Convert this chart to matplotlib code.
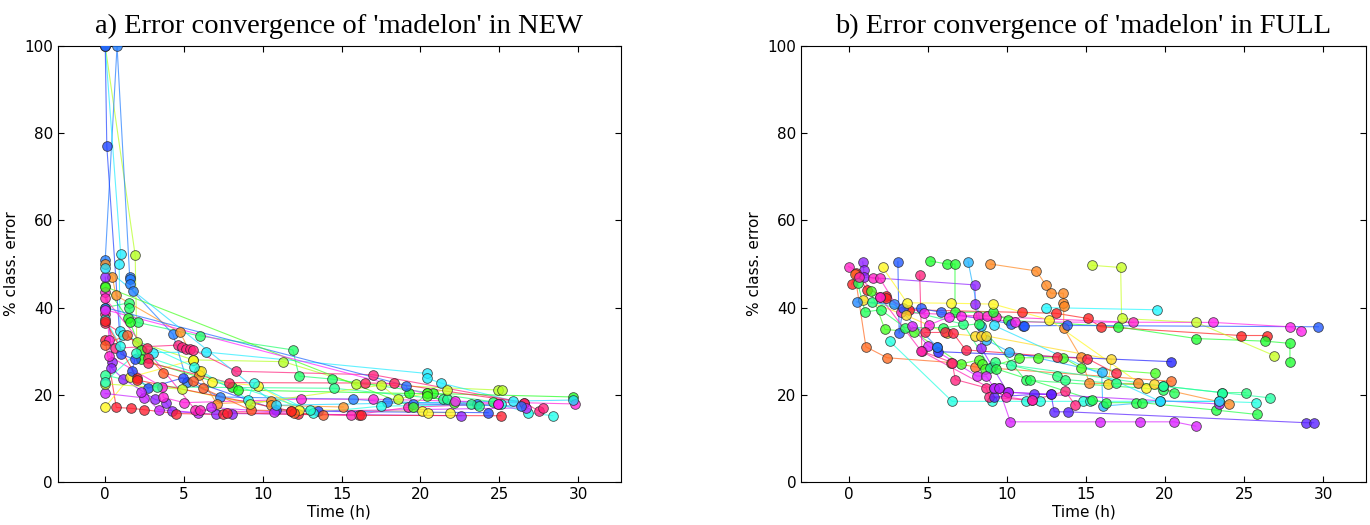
import matplotlib
matplotlib.use("Agg")
import matplotlib.pyplot as plt
from matplotlib.colors import hsv_to_rgb

# ---- panel a) NEW: one list per run (time in h, % class. error), plus hue
new_times = [
    [0, 1.9, 2.0, 5.6, 11.3, 15.9, 24.9, 25.2],
    [0, 1.5, 1.5, 2.05, 6.0, 11.9, 12.3, 14.4, 24.6],
    [0, 0.75, 1.55, 1.55, 1.55, 1.75, 4.3, 5.2, 7.27, 15.7, 17.9, 23.6],
    [0, 0.98, 0.88, 0.95, 3.0, 6.4, 20.4, 20.4, 21.3, 25.9],
    [0, 0.63, 4.64, 4.9, 5.1, 5.4, 5.6, 8.3, 17.0, 26.6, 27.5, 27.8],
    [0, 0.45, 0.68, 4.76, 5.96, 5.96, 7.07, 10.5, 10.5, 15.1],
    [0, 1.43, 1.58, 2.25, 2.25, 8.07, 8.4, 19.3, 20.4, 20.8, 29.7],
    [0, 0.45, 0.38, 1.13, 3.13, 3.86, 4.26, 7.0, 8.05, 22.6],
    [0, 0.7, 1.63, 2.43, 4.5, 7.47, 7.72, 12.2, 16.1, 16.2, 25.1],
    [0, 0.25, 0.25, 3.63, 3.68, 5.0, 12.4, 17.0, 29.8],
    [0, 1.55, 5.6, 6.07, 6.8, 9.7, 12.3, 20.1, 20.5, 21.9],
    [0, 0.1, 1.0, 1.88, 1.7, 2.7, 4.94, 10.85, 13.5, 24.3],
    [0, 0.95, 1.15, 5.64, 9.07, 9.42, 13.2, 17.5, 25.1, 26.8, 28.4],
    [0, 2.63, 2.7, 2.7, 7.84, 16.5, 18.3, 26.6],
    [0, 2.43, 2.25, 3.38, 5.9, 6.7, 10.7, 26.7],
    [0, 3.28, 14.5, 21.4, 21.7, 23.2, 23.7],
    [0, 5.7, 6.0, 15.6, 19.2, 24.9],
    [0, 1.4, 3.68, 5.56, 6.2, 9.22, 11.8, 12.0, 13.8],
    [0, 4.84, 9.2, 17.5, 18.6, 21.7],
    [0, 19.1, 19.5, 26.4],
    [0, 1.95, 13.0],
    [0, 2.0, 2.0, 11.8],
    [0, 19.5, 20.4, 20.4, 22.1],
    [0, 10.85, 29.7],
    [0, 22.2, 24.9],
]
new_errors = [
    [100, 52, 32.2, 28, 27.6, 22.5, 21.1, 21.1],
    [40, 41.1, 39.8, 36.6, 33.5, 30.3, 24.3, 23.6, 18.4],
    [51, 100, 47.1, 46.5, 45.4, 43.8, 33.9, 23, 19.5, 19, 18.4, 17.9],
    [100, 52.3, 50, 34.7, 29.7, 29.8, 24.9, 23.8, 22.7, 18.6],
    [38.5, 30.7, 31.4, 30.9, 30.5, 30.4, 30.3, 25.4, 24.6, 18.2, 16.3, 16.9],
    [50, 47, 42.8, 34.3, 25.4, 24.5, 18, 18.5, 17.6, 17.2],
    [45, 37.5, 36.6, 30.3, 28.1, 21.8, 21.1, 20.3, 20.3, 20.3, 19.5],
    [47, 27.6, 26.2, 23.7, 19, 18.2, 16.2, 15.5, 15.7, 15.2],
    [32.5, 17.1, 16.9, 16.6, 15.7, 15.5, 15.9, 15.5, 15.3, 15.3, 15.2],
    [43.5, 32.6, 28.9, 21.8, 19.4, 18.2, 19, 19, 17.9],
    [17.2, 24, 28, 25.4, 23, 22.1, 16.6, 16.2, 15.9, 15.9],
    [100, 77, 29.3, 28.1, 25.5, 21.5, 23.9, 16.6, 16.2, 15.9],
    [37.4, 31.3, 33.8, 26.4, 18.9, 22.6, 15.9, 17.4, 17.8, 15.9, 15.2],
    [36.4, 30.7, 28.4, 27.4, 22.8, 22.7, 22.6, 18.2],
    [20.3, 19.3, 20.6, 16.6, 15.9, 17.1, 16.1, 17],
    [24.5, 21.8, 21.5, 19, 19, 17.9, 17.4],
    [42.1, 16.6, 16.5, 15.3, 17.1, 18],
    [31.5, 33.8, 25.1, 23.1, 21.5, 16.5, 16.3, 15.9, 15.3],
    [22.5, 21.3, 18, 22.2, 19.1, 21.2],
    [40, 22.1, 17.9, 17.4],
    [23, 29.5, 16.5],
    [37, 23.9, 23.4, 16.3],
    [44.8, 17.2, 20.3, 19.7, 18.2],
    [49, 17.6, 18.8],
    [39.5, 18.5, 18],
]
new_hues = [80, 140, 215, 185, 335, 30, 120, 270, 355, 310, 58, 230, 175,
            345, 285, 150, 320, 15, 75, 220, 165, 0, 110, 190, 300]

# ---- panel b) FULL
full_times = [
    [0.9, 0.96, 0.96, 8.0, 8.0, 8.4, 9.1, 10.05, 12.8],
    [0, 1.55, 1.98, 3.3, 8.2, 8.76, 9.3, 18.0],
    [0.2, 0.46, 1.17, 2.4, 2.4, 3.8, 10.94, 13.1, 15.13, 15.94, 24.8, 26.47],
    [0.4, 1.1, 2.44, 6.5, 8.0, 20.4],
    [8.96, 11.88, 12.46, 12.8, 13.58, 13.58, 13.6, 13.6, 14.67, 15.23, 18.3, 24.05],
    [15.38, 17.2, 17.26, 21.98, 26.9],
    [5.15, 6.2, 6.73, 6.73, 9.16, 10.05, 17.03, 21.98, 26.35, 27.9, 27.9],
    [7.56, 8.38, 8.7, 10.15, 16.0, 16.07, 19.7],
    [3.12, 3.2, 3.45, 4.6, 5.86, 10.3, 11.0, 11.1, 13.83, 29.7],
    [12.46, 19.5],
    [2.16, 3.7, 6.5, 9.16, 12.7, 18.8],
    [0.9, 3.65, 6.24, 8.0, 8.4, 8.7, 16.62, 16.4, 19.3],
    [0.58, 1.04, 2.03, 3.58, 6.0, 8.25, 11.2, 11.5, 19.9, 20.6],
    [1.4, 2.3, 4.14, 7.1, 8.27, 8.45, 8.63, 10.78, 11.95, 13.58, 14.67, 19.4],
    [1.47, 7.26, 8.96, 9.26, 13.2, 13.66, 16.9, 19.9, 23.6, 25.1],
    [2.6, 6.55, 9.04, 11.2, 12.13, 14.85, 15.25, 23.4, 25.76],
    [4.5, 4.64, 6.55, 6.75, 8.7, 8.9, 11.57, 13.7, 14.34],
    [4.0, 5.0, 8.12, 8.7, 9.2, 9.5, 10.23, 15.9, 18.4, 20.6, 21.95],
    [9.2, 11.75, 12.8, 13.0, 13.86, 28.9, 29.4],
    [5.6, 5.66, 20.4],
    [1.98, 4.77, 5.08, 6.37, 7.13, 10.53, 23.05, 27.9, 28.6],
    [4.82, 6.1, 6.62, 7.4, 13.15, 15.1, 16.9],
    [9.3, 15.38, 16.27, 18.15, 18.53, 23.2, 25.8],
    [10.3, 19.9, 23.6, 26.65],
    [9.2, 9.5, 10.05, 23.4],
    [9.2, 19.7, 23.4],
    [0.66, 1.98, 4.6, 9.97, 11.57],
    [0.53, 2.87, 5.6],
]
full_errors = [
    [50.5, 48.6, 47, 45.2, 40.9, 30.7, 26.4, 20.6, 20.1],
    [49.4, 46.7, 46.7, 38.9, 38.1, 38.1, 37.9, 36.6],
    [45.4, 48, 44.1, 42.7, 42.1, 39.5, 38.9, 38.7, 37.5, 35.6, 33.6, 33.6],
    [47.7, 31, 28.5, 27.4, 26.4, 23.1],
    [50, 48.4, 45.2, 43.3, 43.3, 41, 40.4, 35.3, 28.7, 22.6, 22.6, 17.9],
    [49.7, 49.2, 37.5, 36.6, 29],
    [50.7, 50, 50, 38.9, 39, 37.1, 35.6, 32.9, 32.3, 31.8, 27.5],
    [50.5, 35.8, 32.6, 29.9, 25.2, 17.4, 18.5],
    [50.5, 34.1, 39.9, 39.8, 38.9, 36.3, 35.8, 35.8, 35.9, 35.6],
    [40, 39.5],
    [49.2, 41.1, 41, 40.8, 37.2, 21.6],
    [41.8, 38.2, 34.1, 33.5, 33.5, 33.5, 28.1, 22.4, 22.4],
    [45.7, 39, 39.5, 35.4, 35.4, 36.3, 23.3, 23.3, 21.2, 20.5],
    [43.8, 35, 34.4, 27.1, 28, 27.1, 26, 28.5, 28.5, 28.5, 26.2, 24.9],
    [41.3, 36.2, 26.2, 27.6, 24.3, 23.5, 22.6, 22, 20.5, 20.5],
    [32.3, 18.5, 18.5, 18.5, 18.5, 18.5, 18.5, 18.5, 18.2],
    [47.5, 30, 27.4, 23.5, 21.6, 19.5, 18.7, 20.8, 17.6],
    [35.8, 31.3, 24.3, 24.3, 21.6, 21.5, 13.8, 13.8, 13.8, 13.8, 12.8],
    [19.5, 20.1, 20.1, 16.1, 16.1, 13.6, 13.6],
    [31, 29.9, 27.6],
    [42.5, 38.7, 36, 37.9, 38.1, 36.7, 36.6, 35.6, 34.6],
    [34.3, 34.3, 34.1, 30.3, 28.7, 28.3, 24.9],
    [26, 18.9, 18.2, 18.2, 18.2, 16.5, 15.5],
    [26.8, 22, 20.5, 19.3],
    [21.6, 21.5, 20.6, 17.9],
    [35.9, 18.5, 18.5],
    [47, 42.5, 30, 19.5, 18.7],
    [41.3, 40.8, 31],
]
full_hues = [270, 315, 0, 20, 28, 75, 125, 200, 225, 182, 58, 50, 135,
             110, 145, 172, 335, 290, 255, 240, 305, 350, 130, 155, 280,
             188, 320, 212]

titles = ["a) Error convergence of 'madelon' in NEW",
          "b) Error convergence of 'madelon' in FULL"]

fig = plt.figure(figsize=(13.7, 5.25), dpi=100)
ax1 = fig.add_axes([0.0423, 0.0819, 0.4107, 0.8305])
ax2 = fig.add_axes([0.5847, 0.0819, 0.4123, 0.8305])


def draw_runs(ax, times, errors, hues):
    for t, e, h in zip(times, errors, hues):
        c = hsv_to_rgb((h / 360.0, 0.88, 1.0))
        ax.plot(t, e, '-', color=c, lw=0.8, alpha=0.7, zorder=2)
        ax.plot(t, e, 'o', color=c, ms=7, mec=(0.15, 0.15, 0.15, 0.7),
                mew=0.6, alpha=0.78, ls='none', zorder=3)


for ax, times, errors, hues, title in [(ax1, new_times, new_errors, new_hues, titles[0]),
                                       (ax2, full_times, full_errors, full_hues, titles[1])]:
    draw_runs(ax, times, errors, hues)
    ax.set_xlim(-3, 32.7)
    ax.set_ylim(0, 100)
    ax.set_xticks([0, 5, 10, 15, 20, 25, 30])
    ax.set_yticks([0, 20, 40, 60, 80, 100])
    ax.tick_params(direction='in', top=True, right=True, length=4, labelsize=11)
    ax.set_xlabel("Time (h)", fontsize=11, labelpad=2)
    ax.set_ylabel("% class. error", fontsize=11)
    ax.set_title(title, family='Liberation Serif', fontsize=20.5, pad=9)

fig.savefig("out.png", dpi=100)
